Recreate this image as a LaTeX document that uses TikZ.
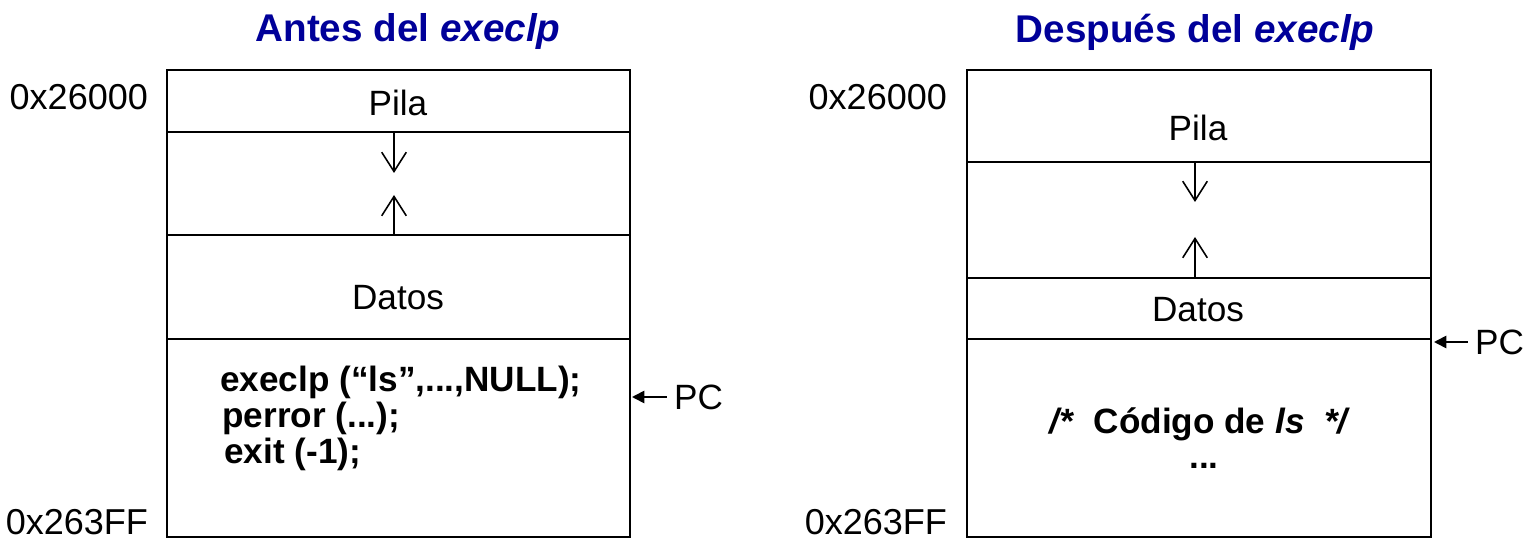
\documentclass[tikz,border=0pt]{standalone}
\usepackage{fontspec}
\setmainfont{Liberation Sans}
\usetikzlibrary{arrows.meta,positioning}
\definecolor{titleblue}{RGB}{0,0,153}

\tikzset{
  seg/.style={draw, line width=1.1pt},
  lbl/.style={font=\fontsize{20}{24}\selectfont},
  code/.style={font=\fontsize{20}{24}\selectfont\bfseries, anchor=west, inner sep=0pt},
  addr/.style={font=\fontsize{20.5}{24}\selectfont, anchor=east, inner sep=1pt},
  ttl/.style={font=\fontsize{22}{26}\selectfont\bfseries, text=titleblue},
  segarrow/.style={-{Straight Barb[length=11pt,width=14pt]}, line width=0.9pt},
  pcarrow/.style={-{Triangle[length=7pt,width=7pt]}, line width=1pt, shorten <=3pt}
}

\begin{document}
\begin{tikzpicture}[x=0.02cm, y=-0.02cm]
        \useasboundingbox (0,0) rectangle (1530,540);

        % Before execlp
        \node[ttl] (tA) at (408,32) {Antes del \textit{execlp}};
        \draw[seg] (167,70) rectangle (630,132);
        \draw[seg] (167,132) rectangle (630,235);
        \draw[seg] (167,235) rectangle (630,339);
        \draw[seg] (167,339) rectangle (630,537);
        \node[lbl] (pilaA) at (398,103) {Pila};
        \node[lbl] (datosA) at (398,298) {Datos};
        \coordinate (sA1) at (394,132);
        \coordinate (sA2) at (394,173);
        \coordinate (hA1) at (394,235);
        \coordinate (hA2) at (394,195);
        \draw[segarrow] (sA1) -- (sA2);
        \draw[segarrow] (hA1) -- (hA2);
        \node[code] (cA1) at (220,382) {execlp (“ls”,...,NULL);};
        \node[code] (cA2) at (222,418) {perror (...);};
        \node[code] (cA3) at (224,454) {exit (-1);};
        \node[addr] (topA) at (150,97) {0x26000};
        \node[addr] (botA) at (150,522) {0x263FF};
        \node[lbl, anchor=west, inner sep=1pt] (pcA) at (672,397) {PC};
        \coordinate (pcAt) at (632,397);
        \draw[pcarrow] (pcA.west) -- (pcAt);

        % After execlp
        \node[ttl] (tB) at (1195,32) {Después del \textit{execlp}};
        \draw[seg] (967,70) rectangle (1431,162);
        \draw[seg] (967,162) rectangle (1431,278);
        \draw[seg] (967,278) rectangle (1431,339);
        \draw[seg] (967,339) rectangle (1431,537);
        \node[lbl] (pilaB) at (1198,128) {Pila};
        \node[lbl] (datosB) at (1198,310) {Datos};
        \coordinate (sB1) at (1195,162);
        \coordinate (sB2) at (1195,202);
        \coordinate (hB1) at (1195,278);
        \coordinate (hB2) at (1195,237);
        \draw[segarrow] (sB1) -- (sB2);
        \draw[segarrow] (hB1) -- (hB2);
        \node[lbl, font=\fontsize{20}{24}\selectfont\bfseries] (cB1) at (1200,424) {\textit{/*}\ \ Código de \textit{ls}\ \ \textit{*/}};
        \node[lbl, font=\fontsize{20}{24}\selectfont\bfseries] (cB2) at (1204,466) {...};
        \node[addr] (topB) at (949,97) {0x26000};
        \node[addr] (botB) at (949,522) {0x263FF};
        \node[lbl, anchor=west, inner sep=1pt] (pcB) at (1473,342) {PC};
        \coordinate (pcBt) at (1434,342);
        \draw[pcarrow] (pcB.west) -- (pcBt);
    \end{tikzpicture}
\end{document}
